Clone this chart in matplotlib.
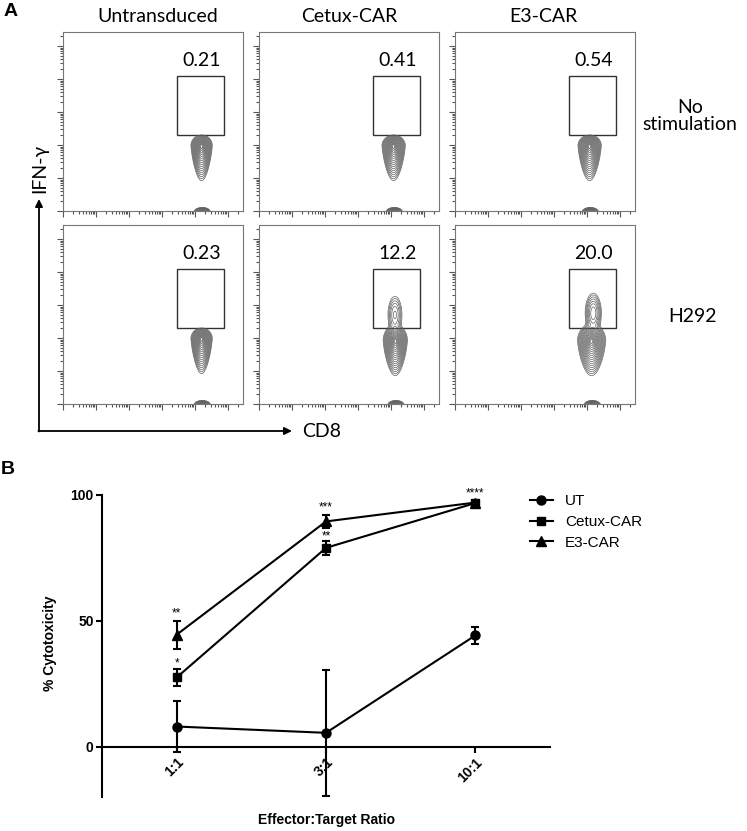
import numpy as np
import matplotlib
matplotlib.use('Agg')
import matplotlib.pyplot as plt
from matplotlib.patches import Rectangle, FancyArrowPatch

# ---- данные панели A (проточная цитометрия) ----
col_titles = ['Untransduced', 'Cetux-CAR', 'E3-CAR']
row_titles = ['No\nstimulation', 'H292']
gate_pct = [['0.21', '0.41', '0.54'],
            ['0.23', '12.2', '20.0']]

# покоящаяся популяция (каплевидная), по панелям [ряд][колонка], в декадах
core_x = [[4.20, 4.08, 4.08], [4.20, 4.13, 4.14]]
core_y = [[1.98, 1.98, 1.98], [1.98, 1.92, 1.92]]
core_sx = [[0.11, 0.12, 0.12], [0.11, 0.125, 0.145]]
core_sy_up = [[0.11, 0.11, 0.11], [0.11, 0.16, 0.17]]
core_sy_dn = [[0.36, 0.36, 0.36], [0.36, 0.36, 0.36]]
# активированная популяция (IFN-g+)
act_x = [[4.2, 4.1, 4.1], [4.2, 4.12, 4.19]]
act_y = [[2.7, 2.7, 2.7], [2.7, 2.70, 2.75]]
act_sx = [[0.1, 0.1, 0.1], [0.1, 0.10, 0.105]]
act_sy = [[0.26, 0.26, 0.26], [0.26, 0.265, 0.26]]
act_w = [[0.0, 0.0, 0.0], [0.0, 0.12, 0.20]]

# гейт (в декадах)
gate_x0, gate_x1 = 3.45, 4.88
gate_y0, gate_y1 = 2.30, 4.09

# ---- данные панели B ----
ratios = ['1:1', '3:1', '10:1']
ut_mean = [8.0, 5.5, 44.2]
ut_err = [10.0, 25.0, 3.5]
cetux_mean = [27.5, 79.0, 96.8]
cetux_err = [3.5, 2.7, 0.8]
e3_mean = [44.5, 89.5, 97.0]
e3_err = [5.5, 2.5, 0.5]
cetux_stars = ['*', '**', '']
e3_stars = ['**', '***', '****']

W, H = 747, 831
fig = plt.figure(figsize=(W / 100, H / 100), dpi=100)


def fx(px):
    return px / W


def fy(py):
    return 1 - py / H


def gauss(X, Y, cx, cy, sx, sy):
    return np.exp(-((X - cx) ** 2) / (2 * sx ** 2) - ((Y - cy) ** 2) / (2 * sy ** 2))


def teardrop(X, Y, cx, cy, sx, sy_up, sy_dn):
    dy = Y - cy
    sy = np.where(dy > 0, sy_up, sy_dn)
    # ширина сужается книзу
    sxy = np.clip(sx - 0.028 * np.clip(-dy, 0, None), 0.06, None)
    return np.exp(-dy ** 2 / (2 * sy ** 2) - (X - cx) ** 2 / (2 * sxy ** 2))


flow_font = 'Lato'
col_x0 = [63, 259, 455]
row_y0 = [32, 225]
pw, ph = 180, 179
xmax, ymax = pw / 33.0, ph / 33.0

gx = np.linspace(0, xmax, 500)
gy = np.linspace(-0.4, ymax, 500)
GX, GY = np.meshgrid(gx, gy)

major = np.arange(0, 6)
minor = [d + np.log10(k) for d in range(6) for k in range(2, 10)]
# уровни так, чтобы кольца шли примерно равномерно
ring_r = np.linspace(0.25, 2.95, 17)
ring_levels = np.sort(np.exp(-0.5 * ring_r ** 2))

for r in range(2):
    for c in range(3):
        ax = fig.add_axes([fx(col_x0[c]), fy(row_y0[r] + ph), pw / W, ph / H])
        ax.set_xlim(0, xmax)
        ax.set_ylim(0, ymax)
        ax.set_xticks(major)
        ax.set_yticks(major)
        ax.set_xticks([m for m in minor if m < xmax], minor=True)
        ax.set_yticks([m for m in minor if m < ymax], minor=True)
        ax.tick_params(which='both', direction='out', labelbottom=False, labelleft=False,
                       color='#555555', width=0.8)
        ax.tick_params(which='major', length=4)
        ax.tick_params(which='minor', length=2)
        for s in ax.spines.values():
            s.set_color('#777777')
            s.set_linewidth(0.8)

        Z = teardrop(GX, GY, core_x[r][c], core_y[r][c], core_sx[r][c],
                     core_sy_up[r][c], core_sy_dn[r][c])
        Z += 0.6 * gauss(GX, GY, core_x[r][c] + 0.02, -0.03, 0.09, 0.05)
        if act_w[r][c] > 0:
            Z += act_w[r][c] * gauss(GX, GY, act_x[r][c], act_y[r][c],
                                     act_sx[r][c], act_sy[r][c])
        ax.contour(GX, GY, Z, levels=Z.max() * ring_levels, colors='#5e5e5e',
                   linewidths=0.5)

        ax.add_patch(Rectangle((gate_x0, gate_y0), gate_x1 - gate_x0, gate_y1 - gate_y0,
                               fill=False, edgecolor='#333333', lw=1.0))
        ax.text(4.2, 4.57, gate_pct[r][c], ha='center', va='center',
                fontsize=14, family=flow_font)

title_cx = [158, 349, 543]
for c in range(3):
    fig.text(fx(title_cx[c]), fy(17), col_titles[c], ha='center', va='center',
             fontsize=14, family=flow_font)
fig.text(fx(690), fy(116), row_titles[0], ha='center', va='center',
         fontsize=14, family=flow_font, linespacing=1.0)
fig.text(fx(693), fy(317), row_titles[1], ha='center', va='center',
         fontsize=14, family=flow_font)

fig.text(fx(40), fy(168), 'IFN-γ', rotation=90, ha='center', va='center',
         fontsize=14, family=flow_font)
fig.text(fx(302), fy(432), 'CD8', ha='left', va='center',
         fontsize=14, family=flow_font)

arrow = dict(arrowstyle='-|>', color='black', lw=1.3, mutation_scale=11, shrinkA=0, shrinkB=0)
fig.patches.append(FancyArrowPatch((fx(39), fy(431.5)), (fx(39), fy(199)),
                                   transform=fig.transFigure, **arrow))
fig.patches.append(FancyArrowPatch((fx(38.4), fy(431)), (fx(292), fy(431)),
                                   transform=fig.transFigure, **arrow))

fig.text(fx(4), fy(12), 'A', ha='left', va='center', fontsize=14,
         fontweight='bold', family='Liberation Sans')
fig.text(fx(1), fy(470), 'B', ha='left', va='center', fontsize=14,
         fontweight='bold', family='Liberation Sans')

# ---- панель B ----
bfont = 'Liberation Sans'
axb = fig.add_axes([fx(102), fy(797), (550 - 102) / W, (797 - 495) / H])
axb.spines['top'].set_visible(False)
axb.spines['right'].set_visible(False)
axb.spines['bottom'].set_position(('data', 0))
axb.spines['left'].set_linewidth(1.5)
axb.spines['bottom'].set_linewidth(1.5)

x = np.arange(len(ratios))
series = [(ut_mean, ut_err, 'o', 6.5, 'UT'),
          (cetux_mean, cetux_err, 's', 6, 'Cetux-CAR'),
          (e3_mean, e3_err, '^', 6.5, 'E3-CAR')]
handles = []
for mean, err, mk, ms, lab in series:
    axb.errorbar(x, mean, yerr=err, fmt='none', ecolor='black', elinewidth=1.5,
                 capsize=3, capthick=1.5, clip_on=False, zorder=3)
    ln, = axb.plot(x, mean, color='black', lw=1.5, marker=mk, ms=ms, clip_on=False, zorder=4)
    handles.append(ln)

for i in range(len(ratios)):
    if cetux_stars[i]:
        axb.text(x[i], cetux_mean[i] + cetux_err[i] - 0.5, cetux_stars[i], ha='center',
                 va='bottom', fontsize=8.5, family=bfont)
    if e3_stars[i]:
        axb.text(x[i], e3_mean[i] + e3_err[i] + 0.6, e3_stars[i], ha='center',
                 va='bottom', fontsize=8.5, family=bfont)

axb.set_xlim(-0.5, 2.5)
axb.set_ylim(-20, 100)
axb.set_yticks([0, 50, 100])
axb.set_xticks(x)
axb.set_xticklabels(ratios)
axb.tick_params(direction='out', length=4, width=1.5, pad=2)
axb.tick_params(axis='x', labelrotation=45)
for lab in axb.get_xticklabels():
    lab.set_ha('right')
    lab.set_va('top')
    lab.set_rotation_mode('anchor')
for lab in axb.get_xticklabels() + axb.get_yticklabels():
    lab.set_fontweight('bold')
    lab.set_fontsize(10)
    lab.set_family(bfont)

fig.text(fx(326), fy(820), 'Effector:Target Ratio', ha='center', va='center',
         fontsize=10, fontweight='bold', family=bfont)
fig.text(fx(50), fy(643), '% Cytotoxicity', rotation=90, ha='center', va='center',
         fontsize=10, fontweight='bold', family=bfont)

axb.legend(handles, ['UT', 'Cetux-CAR', 'E3-CAR'], loc='upper left',
           bbox_to_anchor=(fx(530), fy(494)), bbox_transform=fig.transFigure,
           frameon=False, prop={'family': bfont, 'size': 11}, handlelength=1.5,
           handletextpad=0.8, labelspacing=0.45, borderpad=0, borderaxespad=0)

fig.savefig('out.png', dpi=100)
